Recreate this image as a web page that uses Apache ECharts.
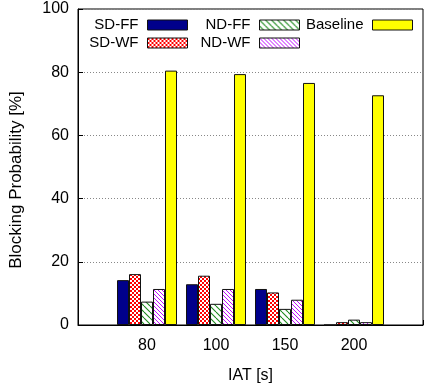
<!DOCTYPE html>
<html><head><meta charset="utf-8">
<script src="https://cdn.jsdelivr.net/npm/echarts@6/dist/echarts.min.js"></script>
<style>html,body{margin:0;padding:0;background:#fff}#c{width:426px;height:389px}</style>
</head><body><div id="c"></div>
<script>
const categories = ['', '80', '100', '150', '200', ''];
const sdFF = ['-', 14.2, 12.9, 11.4, 0, '-'];
const sdWF = ['-', 16.1, 15.6, 10.3, 0.9, '-'];
const ndFF = ['-', 7.4, 6.7, 5.1, 1.7, '-'];
const ndWF = ['-', 11.4, 11.4, 8.0, 0.9, '-'];
const baseline = ['-', 80.5, 79.4, 76.6, 72.7, '-'];
const yTicks = [0, 20, 40, 60, 80, 100];

function pat(draw, w, h) {
  const c = document.createElement('canvas'); c.width = w; c.height = h;
  const g = c.getContext('2d'); g.fillStyle = '#fff'; g.fillRect(0, 0, w, h);
  draw(g); return c;
}
const checkerCanvas = pat(g => {
  g.fillStyle = '#ff0000'; g.fillRect(0, 0, 2, 2); g.fillRect(2, 2, 2, 2);
}, 4, 4);
function diag(color, step, lw) {
  return pat(g => { g.strokeStyle = color; g.lineWidth = lw;
    for (let k = -step; k <= step * 2; k += step) { g.beginPath(); g.moveTo(k, 0); g.lineTo(k + step, step); g.stroke(); }
  }, step, step);
}
const greenCanvas = diag('#1a8a1a', 6, 1.1);
const magCanvas = diag('#c010ff', 4, 1);
const mk = c => ({ image: c, repeat: 'repeat' });

const chart = echarts.init(document.getElementById('c'), null, { renderer: 'canvas' });
const font = 'Liberation Sans';
function bar(name, data, canvasOrColor) {
  const color = typeof canvasOrColor === 'string' ? canvasOrColor : mk(canvasOrColor);
  const legendColor = typeof canvasOrColor === 'string' ? canvasOrColor : mk(canvasOrColor);
  return { name, type: 'bar', data, barWidth: 12, barGap: '0%',
    itemStyle: { color, borderColor: '#111', borderWidth: 1 }, _legendColor: legendColor };
}
const series = [
  bar('SD-FF', sdFF, '#00008b'),
  bar('SD-WF', sdWF, checkerCanvas),
  bar('ND-FF', ndFF, greenCanvas),
  bar('ND-WF', ndWF, magCanvas),
  bar('Baseline', baseline, '#ffff00')
];
const legendItem = name => {
  const s = series.find(x => x.name === name);
  return { name, itemStyle: { color: s._legendColor, borderColor: '#111', borderWidth: 1 } };
};
series.forEach(s => delete s._legendColor && false);
const legendBase = { orient: 'vertical', align: 'right', itemWidth: 40, itemHeight: 10, itemGap: 2,
  padding: 0, top: 17,
  textStyle: { fontFamily: font, fontSize: 15, color: '#000', lineHeight: 16, padding: [0, 4, 0, 0] },
  selectedMode: false, icon: 'rect' };
const legends = [
  Object.assign({}, legendBase, { data: ['SD-FF', 'SD-WF'].map(legendItem), right: 238 }),
  Object.assign({}, legendBase, { data: ['ND-FF', 'ND-WF'].map(legendItem), right: 126 }),
  Object.assign({}, legendBase, { data: ['Baseline'].map(legendItem), right: 13 })
];
series.forEach(s => { delete s._legendColor; });
chart.setOption({
  animation: false,
  textStyle: { fontFamily: font },
  grid: { left: 75, right: 1, top: 9, bottom: 64, show: true, borderColor: '#000', borderWidth: 1 },
  legend: legends,
  xAxis: { type: 'category', data: categories, boundaryGap: false,
    name: 'IAT [s]', nameLocation: 'middle', nameGap: 43,
    nameTextStyle: { fontFamily: font, fontSize: 16, color: '#000' },
    axisLine: { lineStyle: { color: '#000', width: 1 } },
    axisTick: { inside: true, length: 5, lineStyle: { color: '#000' } },
    axisLabel: { fontFamily: font, fontSize: 16, color: '#000', margin: 13 },
    splitLine: { show: false } },
  yAxis: { type: 'value', min: 0, max: 100, interval: 20,
    name: 'Blocking Probability [%]', nameLocation: 'middle', nameGap: 53,
    nameTextStyle: { fontFamily: font, fontSize: 17, color: '#000', padding: [0, 26, 0, 0] },
    axisLine: { show: true, lineStyle: { color: '#000' } },
    axisTick: { show: true, inside: true, length: 5, lineStyle: { color: '#000' } },
    axisLabel: { fontFamily: font, fontSize: 16, color: '#000', margin: 9,
      formatter: v => yTicks.includes(v) ? String(v) : '' },
    splitLine: { show: true, lineStyle: { color: '#888', type: [1, 2], width: 1 } } },
  series
});
</script></body></html>
